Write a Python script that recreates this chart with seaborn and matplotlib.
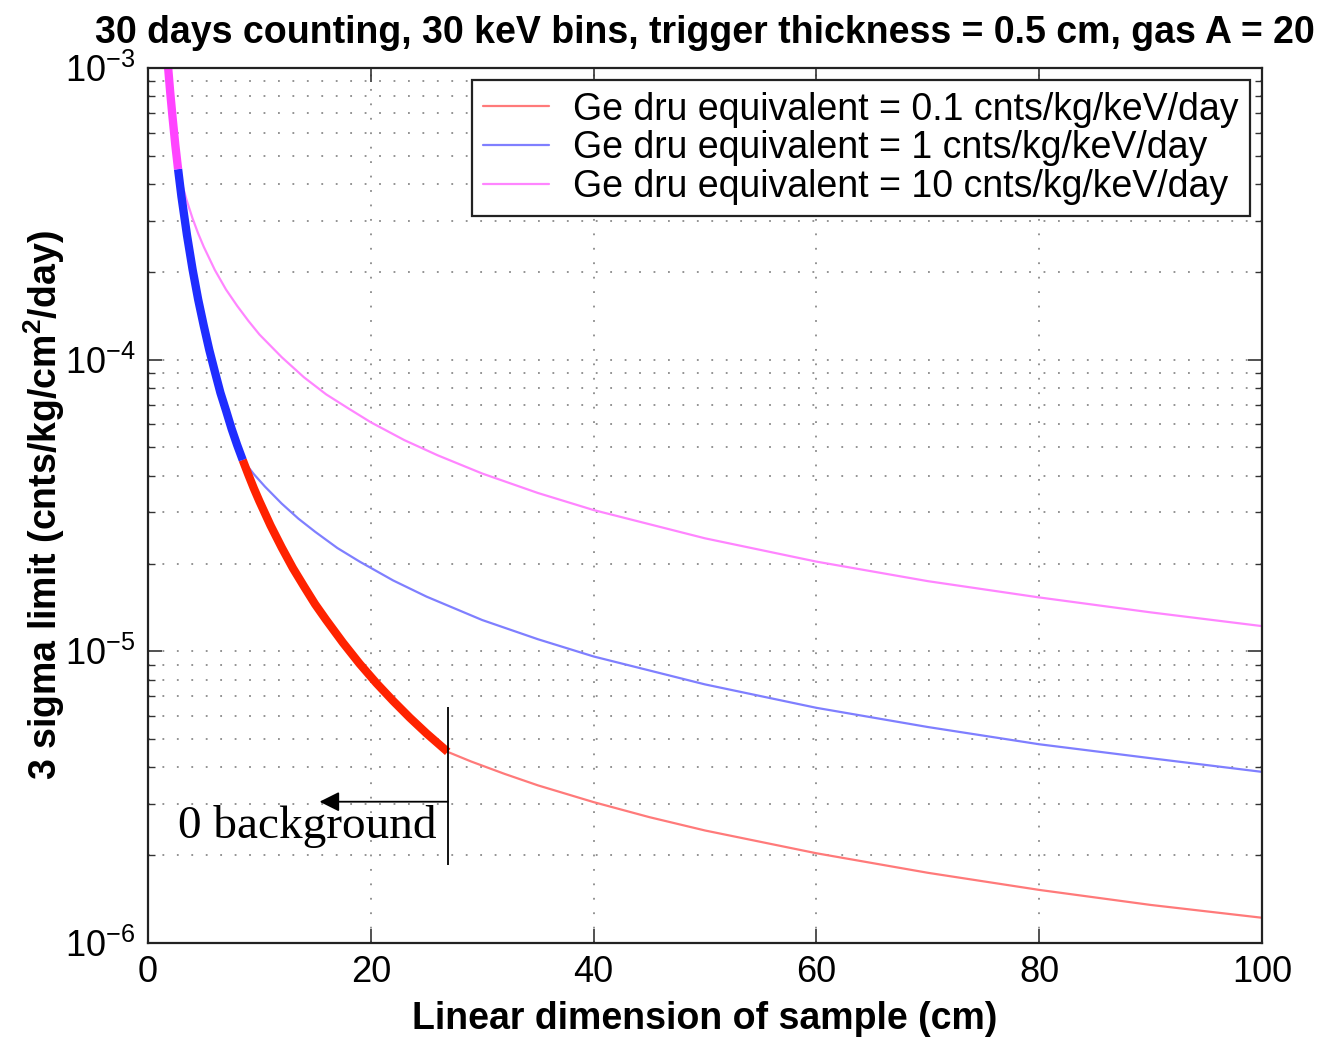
import numpy as np
import pandas as pd
import matplotlib
matplotlib.use("Agg")
import matplotlib.pyplot as plt
import matplotlib.ticker as mticker
import seaborn as sns

# ── data ────────────────────────────────────────────────────
# zero-background part (thick), one piece per background level
mag_thick_x = [1.81, 2.0, 2.2, 2.45, 2.7]
mag_thick_y = [1.0e-3, 8.2e-4, 6.8e-4, 5.45e-4, 4.5e-4]
blue_thick_x = [2.7, 3.0, 3.5, 4.0, 4.5, 5.0, 5.5, 6.0, 6.5, 7.0, 7.5, 8.0, 8.5]
blue_thick_y = [4.5e-4, 3.63e-4, 2.67e-4, 2.04e-4, 1.61e-4, 1.31e-4, 1.08e-4,
                9.1e-5, 7.7e-5, 6.7e-5, 5.8e-5, 5.1e-5, 4.53e-5]
red_thick_x = [8.5, 9.0, 9.5, 10, 11, 12, 13, 14, 15, 16, 17.5, 19, 20.5, 22,
               23.5, 25, 26.9]
red_thick_y = [4.53e-5, 4.04e-5, 3.62e-5, 3.27e-5, 2.7e-5, 2.27e-5, 1.93e-5,
               1.67e-5, 1.45e-5, 1.28e-5, 1.07e-5, 9.06e-6, 7.78e-6, 6.76e-6,
               5.92e-6, 5.23e-6, 4.52e-6]

# background-limited part (thin)
mag_x = [2.7, 3.0, 3.5, 4.0, 4.5, 5, 6, 7, 8, 9, 10, 12, 14, 16, 18, 20, 23,
         26, 30, 35, 40, 50, 60, 70, 80, 90, 100]
mag_y = [4.52e-4, 4.07e-4, 3.49e-4, 3.05e-4, 2.71e-4, 2.44e-4, 2.03e-4,
         1.74e-4, 1.53e-4, 1.36e-4, 1.22e-4, 1.02e-4, 8.7e-5, 7.6e-5, 6.8e-5,
         6.1e-5, 5.3e-5, 4.7e-5, 4.07e-5, 3.49e-5, 3.05e-5, 2.44e-5, 2.03e-5,
         1.74e-5, 1.53e-5, 1.36e-5, 1.22e-5]
blue_x = [8.5, 9.5, 10.5, 12, 13.5, 15, 17, 19, 22, 25, 30, 35, 40, 50, 60,
          70, 80, 90, 100]
blue_y = [4.53e-5, 4.05e-5, 3.67e-5, 3.21e-5, 2.85e-5, 2.57e-5, 2.26e-5,
          2.03e-5, 1.75e-5, 1.54e-5, 1.28e-5, 1.1e-5, 9.6e-6, 7.7e-6, 6.4e-6,
          5.5e-6, 4.8e-6, 4.3e-6, 3.86e-6]
red_x = [26.9, 29, 32, 35, 40, 45, 50, 60, 70, 80, 90, 100]
red_y = [4.52e-6, 4.19e-6, 3.8e-6, 3.47e-6, 3.04e-6, 2.7e-6, 2.43e-6,
         2.03e-6, 1.74e-6, 1.52e-6, 1.35e-6, 1.22e-6]

labels = [
    "Ge dru equivalent = 0.1 cnts/kg/keV/day",
    "Ge dru equivalent = 1 cnts/kg/keV/day",
    "Ge dru equivalent = 10 cnts/kg/keV/day",
]

# annotation
edge_x = 26.9
edge_y = (1.85e-6, 6.45e-6)
arrow_y = 3.05e-6
arrow_to_x = 15.4

# ── style ───────────────────────────────────────────────────
sns.set_style("ticks")
plt.rcParams["font.family"] = ["Liberation Sans", "DejaVu Sans"]
plt.rcParams["mathtext.fontset"] = "custom"
plt.rcParams["mathtext.rm"] = "Liberation Sans"
plt.rcParams["mathtext.bf"] = "Liberation Sans:bold"
plt.rcParams["text.color"] = "black"
plt.rcParams["axes.labelcolor"] = "black"
plt.rcParams["xtick.color"] = "black"
plt.rcParams["ytick.color"] = "black"

THIN = {"red": "#ff7a7a", "blue": "#7f7fff", "mag": "#ff85ff"}
THICK = {"red": "#ff2200", "blue": "#1f2dff", "mag": "#ff44ff"}

fig = plt.figure(figsize=(13.25, 10.37), dpi=100)
ax = fig.add_axes([0.1117, 0.0907, 0.8408, 0.8437])

# thin curves (legend entries)
for x, y, key, lab in [(red_x, red_y, "red", labels[0]),
                       (blue_x, blue_y, "blue", labels[1]),
                       (mag_x, mag_y, "mag", labels[2])]:
    sns.lineplot(x=x, y=y, ax=ax, color=THIN[key], linewidth=1.6,
                 sort=False, estimator=None, label=lab)

# thick zero-background segments
for x, y, key in [(red_thick_x, red_thick_y, "red"),
                  (blue_thick_x, blue_thick_y, "blue"),
                  (mag_thick_x, mag_thick_y, "mag")]:
    sns.lineplot(x=x, y=y, ax=ax, color=THICK[key], linewidth=6,
                 sort=False, estimator=None, legend=False,
                 solid_capstyle="butt")

ax.set_yscale("log")
ax.set_xlim(0, 100)
ax.set_ylim(1e-6, 1e-3)
ax.xaxis.set_major_locator(mticker.MultipleLocator(20))
ax.yaxis.set_major_locator(mticker.LogLocator(base=10))
ax.yaxis.set_minor_locator(mticker.LogLocator(base=10, subs=np.arange(2, 10)))
ax.yaxis.set_minor_formatter(mticker.NullFormatter())
ax.yaxis.set_major_formatter(mticker.LogFormatterMathtext())

grid_kw = dict(color="#8a8a8a", linestyle=(0, (1, 7)), linewidth=1.3)
ax.grid(True, which="major", axis="both", **grid_kw)
ax.grid(True, which="minor", axis="y", **grid_kw)

ax.tick_params(which="both", direction="in", top=True, right=True,
               labelsize=26, color="#333333")
ax.tick_params(which="major", length=10, width=1.2, pad=9)
ax.tick_params(which="minor", length=5, width=1.0)
for s in ax.spines.values():
    s.set_linewidth(1.6)
    s.set_color("#222222")

ax.set_title("30 days counting, 30 keV bins, trigger thickness = 0.5 cm, gas A = 20",
             fontsize=27, fontweight="bold", pad=18)
ax.set_xlabel("Linear dimension of sample (cm)", fontsize=27, fontweight="bold")
ax.set_ylabel(r"3 sigma limit (cnts/kg/cm$^{\mathbf{2}}$/day)", fontsize=27,
              fontweight="bold")
ax.xaxis.set_label_coords(0.5, -0.066)
ax.yaxis.set_label_coords(-0.073, 0.5)

leg = ax.legend(loc="upper right", bbox_to_anchor=(0.989, 0.986), fontsize=27,
                frameon=True, fancybox=False, edgecolor="#222222",
                framealpha=1, borderpad=0.3, labelspacing=0.07,
                handlelength=1.75, handletextpad=0.65, borderaxespad=0.0)
leg.get_frame().set_linewidth(1.6)

# "0 background" marker
ax.vlines(edge_x, edge_y[0], edge_y[1], color="black", linewidth=1.3)
ax.annotate("", xy=(arrow_to_x, arrow_y), xytext=(edge_x, arrow_y),
            arrowprops=dict(arrowstyle="-|>", color="black", lw=1.3,
                            mutation_scale=30, shrinkA=0, shrinkB=0))
ax.text(2.7, 2.29e-6, "0 background", family="Liberation Serif",
        fontsize=34, va="baseline", ha="left")

fig.savefig("out.png", dpi=100)
